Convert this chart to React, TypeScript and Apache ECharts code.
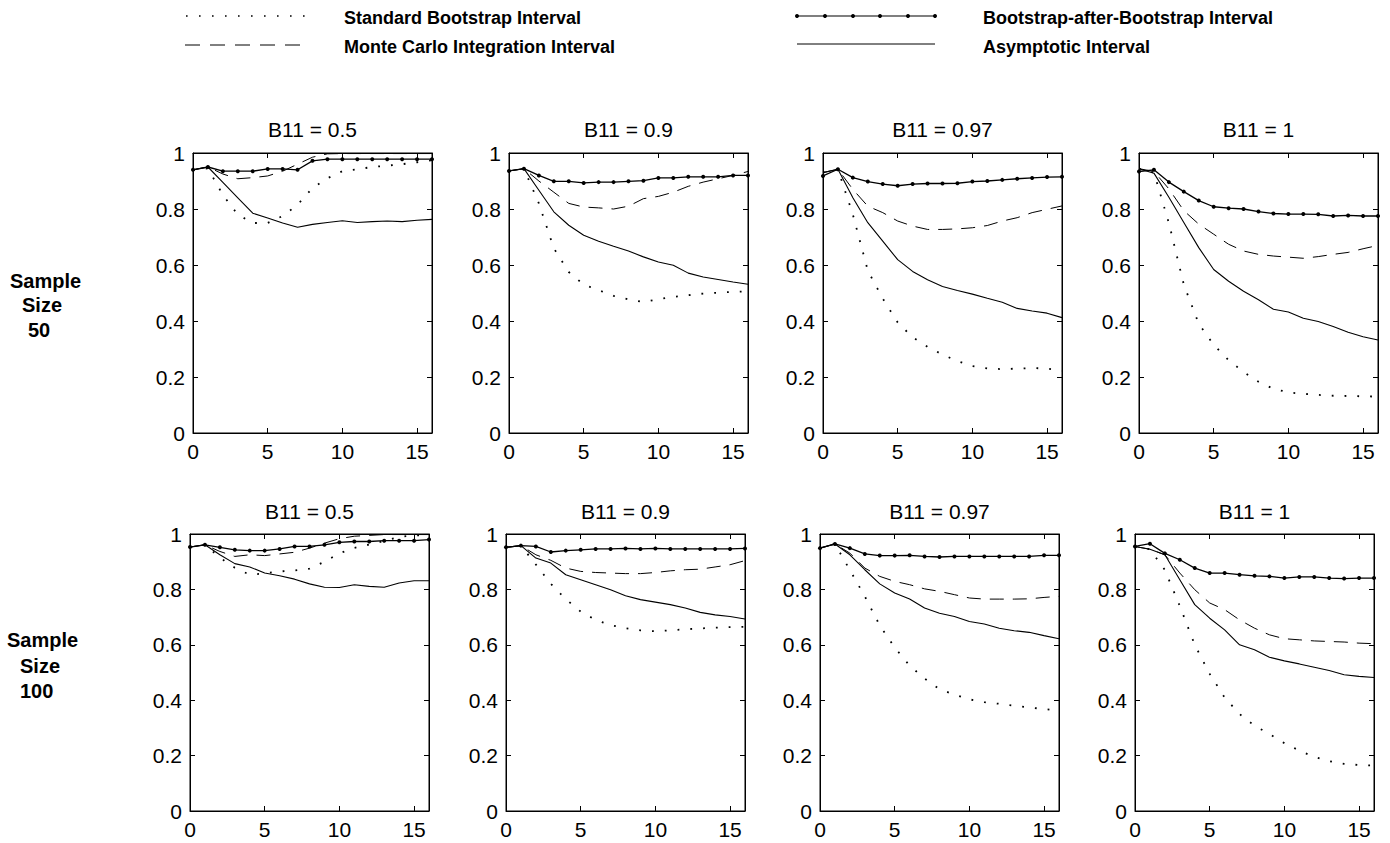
import React, { useEffect, useRef } from 'react';
import * as echarts from 'echarts';

// ---------------- DATA ----------------
const xs = [0, 1, 2, 3, 4, 5, 6, 7, 8, 9, 10, 11, 12, 13, 14, 15, 16];
const xTicks = [0, 5, 10, 15];
const yTicks = [0, 0.2, 0.4, 0.6, 0.8, 1];
const panelTitles = ['B11 = 0.5', 'B11 = 0.9', 'B11 = 0.97', 'B11 = 1'];
const rowLabels = [['Sample', 'Size', '50'], ['Sample', 'Size', '100']];
const seriesNames = [
  'Standard Bootstrap Interval',
  'Monte Carlo Integration Interval',
  'Bootstrap-after-Bootstrap Interval',
  'Asymptotic Interval',
];

// Sample size 50
const sb50_05 = [0.94, 0.945, 0.85, 0.78, 0.75, 0.75, 0.775, 0.815, 0.875, 0.91, 0.935, 0.942, 0.95, 0.955, 0.96, 0.967, 0.974];
const mc50_05 = [0.94, 0.95, 0.925, 0.908, 0.912, 0.918, 0.935, 0.96, 0.985, 0.997, 0.998, 0.998, 0.998, 0.998, 0.998, 0.998, 0.998];
const bab50_05 = [0.94, 0.95, 0.935, 0.935, 0.935, 0.943, 0.943, 0.94, 0.972, 0.978, 0.978, 0.978, 0.978, 0.978, 0.978, 0.978, 0.978];
const as50_05 = [0.94, 0.95, 0.895, 0.84, 0.785, 0.768, 0.75, 0.735, 0.745, 0.752, 0.758, 0.752, 0.755, 0.757, 0.755, 0.76, 0.763];

const sb50_09 = [0.936, 0.944, 0.82, 0.66, 0.575, 0.53, 0.51, 0.49, 0.477, 0.468, 0.478, 0.486, 0.492, 0.498, 0.501, 0.504, 0.506];
const mc50_09 = [0.936, 0.944, 0.9, 0.86, 0.82, 0.807, 0.804, 0.8, 0.81, 0.837, 0.845, 0.86, 0.881, 0.896, 0.908, 0.92, 0.934];
const bab50_09 = [0.936, 0.944, 0.92, 0.899, 0.899, 0.893, 0.896, 0.896, 0.899, 0.901, 0.911, 0.911, 0.915, 0.915, 0.915, 0.92, 0.92];
const as50_09 = [0.936, 0.944, 0.867, 0.79, 0.742, 0.706, 0.685, 0.667, 0.65, 0.629, 0.611, 0.599, 0.571, 0.557, 0.548, 0.539, 0.531];

const sb50_097 = [0.93, 0.942, 0.78, 0.58, 0.48, 0.395, 0.342, 0.308, 0.28, 0.257, 0.239, 0.231, 0.228, 0.23, 0.232, 0.23, 0.222];
const mc50_097 = [0.93, 0.942, 0.87, 0.81, 0.787, 0.757, 0.739, 0.727, 0.727, 0.729, 0.733, 0.741, 0.757, 0.769, 0.787, 0.799, 0.811];
const bab50_097 = [0.918, 0.942, 0.912, 0.898, 0.889, 0.883, 0.889, 0.891, 0.891, 0.892, 0.898, 0.9, 0.904, 0.908, 0.911, 0.914, 0.915];
const as50_097 = [0.93, 0.942, 0.84, 0.751, 0.685, 0.619, 0.577, 0.547, 0.523, 0.509, 0.496, 0.481, 0.467, 0.445, 0.436, 0.428, 0.412];

const sb50_1 = [0.944, 0.93, 0.75, 0.53, 0.39, 0.315, 0.26, 0.218, 0.183, 0.158, 0.145, 0.14, 0.136, 0.133, 0.132, 0.131, 0.13];
const mc50_1 = [0.944, 0.934, 0.872, 0.794, 0.746, 0.71, 0.674, 0.65, 0.638, 0.632, 0.628, 0.624, 0.63, 0.638, 0.645, 0.658, 0.67];
const bab50_1 = [0.934, 0.94, 0.896, 0.862, 0.83, 0.808, 0.803, 0.8, 0.791, 0.784, 0.782, 0.782, 0.781, 0.775, 0.777, 0.775, 0.775];
const as50_1 = [0.944, 0.928, 0.842, 0.752, 0.662, 0.584, 0.542, 0.506, 0.476, 0.442, 0.432, 0.41, 0.398, 0.38, 0.36, 0.344, 0.332];

// Sample size 100
const sb100_05 = [0.953, 0.961, 0.915, 0.878, 0.853, 0.858, 0.865, 0.868, 0.875, 0.9, 0.93, 0.95, 0.962, 0.975, 0.99, 0.995, 0.995];
const mc100_05 = [0.953, 0.961, 0.937, 0.919, 0.925, 0.922, 0.928, 0.934, 0.949, 0.967, 0.983, 0.992, 0.995, 0.998, 0.998, 0.998, 0.998];
const bab100_05 = [0.953, 0.961, 0.952, 0.943, 0.94, 0.94, 0.946, 0.955, 0.955, 0.961, 0.97, 0.973, 0.973, 0.976, 0.976, 0.976, 0.98];
const as100_05 = [0.953, 0.961, 0.925, 0.893, 0.881, 0.859, 0.849, 0.837, 0.82, 0.808, 0.807, 0.817, 0.811, 0.808, 0.823, 0.831, 0.831];

const sb100_09 = [0.952, 0.958, 0.89, 0.82, 0.765, 0.72, 0.69, 0.671, 0.66, 0.652, 0.649, 0.652, 0.656, 0.659, 0.662, 0.664, 0.665];
const mc100_09 = [0.952, 0.958, 0.925, 0.905, 0.877, 0.865, 0.861, 0.859, 0.857, 0.857, 0.861, 0.867, 0.871, 0.873, 0.881, 0.889, 0.904];
const bab100_09 = [0.952, 0.958, 0.955, 0.935, 0.94, 0.943, 0.946, 0.946, 0.948, 0.946, 0.948, 0.946, 0.946, 0.946, 0.946, 0.946, 0.948];
const as100_09 = [0.952, 0.958, 0.913, 0.895, 0.853, 0.835, 0.817, 0.799, 0.777, 0.763, 0.754, 0.745, 0.733, 0.717, 0.708, 0.702, 0.693];

const sb100_097 = [0.949, 0.964, 0.87, 0.775, 0.67, 0.59, 0.525, 0.478, 0.44, 0.42, 0.403, 0.393, 0.387, 0.38, 0.374, 0.368, 0.362];
const mc100_097 = [0.949, 0.964, 0.931, 0.877, 0.847, 0.829, 0.817, 0.802, 0.793, 0.781, 0.769, 0.765, 0.765, 0.765, 0.766, 0.771, 0.775];
const bab100_097 = [0.949, 0.964, 0.949, 0.928, 0.922, 0.922, 0.923, 0.919, 0.917, 0.919, 0.919, 0.919, 0.919, 0.919, 0.919, 0.923, 0.923];
const as100_097 = [0.949, 0.964, 0.925, 0.871, 0.82, 0.787, 0.765, 0.733, 0.714, 0.702, 0.684, 0.675, 0.66, 0.651, 0.645, 0.633, 0.622];

const sb100_1 = [0.955, 0.945, 0.87, 0.74, 0.6, 0.495, 0.41, 0.35, 0.308, 0.278, 0.245, 0.218, 0.195, 0.18, 0.17, 0.166, 0.164];
const mc100_1 = [0.955, 0.945, 0.925, 0.859, 0.799, 0.751, 0.727, 0.69, 0.66, 0.636, 0.622, 0.618, 0.614, 0.612, 0.61, 0.606, 0.604];
const bab100_1 = [0.955, 0.965, 0.93, 0.907, 0.877, 0.859, 0.859, 0.853, 0.849, 0.847, 0.841, 0.845, 0.845, 0.841, 0.839, 0.841, 0.841];
const as100_1 = [0.955, 0.945, 0.925, 0.835, 0.745, 0.696, 0.654, 0.6, 0.582, 0.555, 0.542, 0.531, 0.519, 0.507, 0.492, 0.486, 0.482];

const panelData = [
  [sb50_05, mc50_05, bab50_05, as50_05],
  [sb50_09, mc50_09, bab50_09, as50_09],
  [sb50_097, mc50_097, bab50_097, as50_097],
  [sb50_1, mc50_1, bab50_1, as50_1],
  [sb100_05, mc100_05, bab100_05, as100_05],
  [sb100_09, mc100_09, bab100_09, as100_09],
  [sb100_097, mc100_097, bab100_097, as100_097],
  [sb100_1, mc100_1, bab100_1, as100_1],
];

// ---------------- LAYOUT / STYLE ----------------
const FONT = '"Liberation Sans", Arial, Helvetica, sans-serif';
const rowTops = [153, 534];
const rowHeights = [280, 277];
const colLefts = [
  [193, 509, 823, 1139],
  [190, 506, 820, 1135],
];
const gridW = 239;

const lineStyles: any[] = [
  { type: [1.8, 11], width: 1.8, color: '#000' },
  { type: [14, 9], width: 1, color: '#000' },
  { type: 'solid', width: 1.3, color: '#000' },
  { type: 'solid', width: 1.1, color: '#000' },
];

function txt(text: string, x: number, y: number, font: string, align = 'left') {
  return {
    type: 'text',
    x,
    y,
    silent: true,
    style: {
      text,
      font,
      fill: '#000',
      align,
      verticalAlign: 'middle',
      textAlign: align,
      textVerticalAlign: 'middle',
    },
  };
}

function buildOption() {
  const grid: any[] = [];
  const xAxis: any[] = [];
  const yAxis: any[] = [];
  const series: any[] = [];
  const graphic: any[] = [];

  const axisCommon = {
    axisLine: { show: true, onZero: false, lineStyle: { color: '#000', width: 1 } },
    axisTick: { show: true, inside: true, length: 5, lineStyle: { color: '#000', width: 1 } },
    splitLine: { show: false },
  };
  const labelStyle = { color: '#000', fontSize: 21, fontFamily: FONT };

  panelData.forEach((vals, i) => {
    const r = Math.floor(i / 4);
    const c = i % 4;
    const left = colLefts[r][c];
    const top = rowTops[r];
    const height = rowHeights[r];
    grid.push({
      left,
      top,
      width: gridW,
      height,
      show: true,
      borderColor: '#000',
      borderWidth: 1,
      backgroundColor: 'transparent',
    });
    xAxis.push({
      ...axisCommon,
      gridIndex: i,
      type: 'value',
      min: 0,
      max: 16,
      interval: 5,
      position: 'bottom',
      axisLabel: { ...labelStyle, margin: 8, showMaxLabel: false, formatter: (v: number) => (xTicks.includes(v) ? String(v) : '') },
    });
    xAxis.push({
      ...axisCommon,
      gridIndex: i,
      type: 'value',
      min: 0,
      max: 16,
      interval: 5,
      position: 'top',
      axisLabel: { show: false },
    });
    yAxis.push({
      ...axisCommon,
      gridIndex: i,
      type: 'value',
      min: 0,
      max: 1,
      interval: 0.2,
      position: 'left',
      axisLabel: {
        ...labelStyle,
        margin: 8,
        formatter: (v: number) => {
          const t = yTicks.find((k) => Math.abs(k - v) < 1e-9);
          return t === undefined ? '' : String(t);
        },
      },
    });
    yAxis.push({
      ...axisCommon,
      gridIndex: i,
      type: 'value',
      min: 0,
      max: 1,
      interval: 0.2,
      position: 'right',
      axisLabel: { show: false },
    });

    vals.forEach((arr, s) => {
      series.push({
        type: 'line',
        name: seriesNames[s],
        xAxisIndex: 2 * i,
        yAxisIndex: 2 * i,
        data: xs.map((x, k) => [x, arr[k]]),
        lineStyle: lineStyles[s],
        symbol: s === 2 ? 'circle' : 'none',
        symbolSize: s === 2 ? 4 : 0,
        showSymbol: s === 2,
        showAllSymbol: true,
        itemStyle: { color: '#000', borderWidth: 0 },
        z: s === 2 ? 4 : 3,
        silent: true,
        animation: false,
      });
    });

    graphic.push(txt(panelTitles[c], left + gridW / 2, r === 0 ? 129 : 511, `21px ${FONT}`, 'center'));
  });

  const bold = `bold 20px ${FONT}`;
  graphic.push(txt(rowLabels[0][0], 10, 281, bold));
  graphic.push(txt(rowLabels[0][1], 22, 305, bold));
  graphic.push(txt(rowLabels[0][2], 28, 330, bold));
  graphic.push(txt(rowLabels[1][0], 7, 640, bold));
  graphic.push(txt(rowLabels[1][1], 20, 666, bold));
  graphic.push(txt(rowLabels[1][2], 20, 691, bold));

  const legBold = `bold 18px ${FONT}`;
  graphic.push({
    type: 'line',
    silent: true,
    shape: { x1: 186, y1: 16, x2: 306, y2: 16 },
    style: { stroke: '#000', lineWidth: 1.6, lineDash: [1.6, 11.4] },
  });
  graphic.push({
    type: 'line',
    silent: true,
    shape: { x1: 185, y1: 45, x2: 300, y2: 45 },
    style: { stroke: '#000', lineWidth: 1, lineDash: [15, 10] },
  });
  graphic.push({
    type: 'line',
    silent: true,
    shape: { x1: 797, y1: 16, x2: 935, y2: 16 },
    style: { stroke: '#000', lineWidth: 1.2 },
  });
  [797, 825, 853, 880, 908, 935].forEach((cx) => {
    graphic.push({ type: 'circle', silent: true, shape: { cx, cy: 16, r: 2 }, style: { fill: '#000' } });
  });
  graphic.push({
    type: 'line',
    silent: true,
    shape: { x1: 797, y1: 44, x2: 935, y2: 44 },
    style: { stroke: '#000', lineWidth: 1 },
  });
  graphic.push(txt(seriesNames[0], 344, 18, legBold));
  graphic.push(txt(seriesNames[1], 344, 47, legBold));
  graphic.push(txt(seriesNames[2], 983, 18, legBold));
  graphic.push(txt(seriesNames[3], 983, 47, legBold));

  return {
    animation: false,
    backgroundColor: '#fff',
    grid,
    xAxis,
    yAxis,
    series,
    graphic,
  };
}

export default function App() {
  const ref = useRef<HTMLDivElement>(null);
  useEffect(() => {
    if (!ref.current) return;
    const chart = echarts.init(ref.current, undefined, { renderer: 'svg' });
    chart.setOption(buildOption() as any);
    return () => chart.dispose();
  }, []);
  return (
    <div
      ref={ref}
      style={{ position: 'absolute', left: 0, top: 0, width: 1390, height: 843, background: '#fff' }}
    />
  );
}
